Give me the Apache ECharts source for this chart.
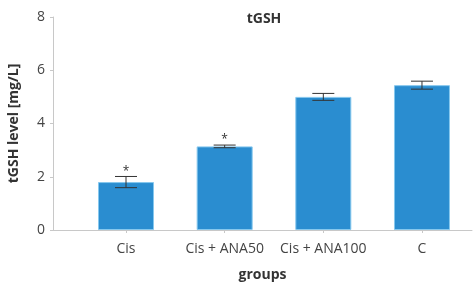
<!DOCTYPE html>
<html>
<head>
<meta charset="utf-8">
<script src="https://cdn.jsdelivr.net/npm/echarts@6/dist/echarts.min.js"></script>
<style>
  html, body { margin: 0; padding: 0; background: #fff; }
  #chart { width: 475px; height: 284px; }
</style>
</head>
<body>
<div id="chart"></div>
<script>
const groups = ['Cis', 'Cis + ANA50', 'Cis + ANA100', 'C']
const means = [1.8, 3.14, 5.0, 5.44]
const errors = [0.21, 0.05, 0.13, 0.15]
const marks = ['*', '*', '', '']

const chart = echarts.init(document.getElementById('chart'))
const font = '"Open Sans", "Noto Sans", sans-serif'

chart.setOption({
    animation: false,
    title: {
        text: 'tGSH',
        left: 259,
        top: 7,
        textAlign: 'center',
        textStyle: { fontFamily: font, fontSize: 14, fontWeight: 'bold', color: '#333' }
    },
    grid: { left: 53, right: 3, top: 17, bottom: 54, outerBoundsMode: 'none' },
    xAxis: {
        type: 'value',
        min: -0.74,
        max: 3.507,
        name: 'groups',
        nameLocation: 'middle',
        nameGap: 38,
        nameTextStyle: { fontFamily: font, fontSize: 14, fontWeight: 'bold', color: '#333' },
        splitLine: { show: false },
        axisLine: { show: true, onZero: false, lineStyle: { color: '#c8c8c8' } },
        axisTick: { show: true, length: 3, customValues: [0, 1, 2, 3], lineStyle: { color: '#c8c8c8' } },
        axisLabel: {
            customValues: [0, 1, 2, 3],
            formatter: v => groups[Math.round(v)],
            fontFamily: font, fontSize: 14, color: '#444', margin: 12
        }
    },
    yAxis: {
        type: 'value',
        min: 0,
        max: 8,
        interval: 2,
        name: 'tGSH level [mg/L]',
        nameLocation: 'middle',
        nameGap: 32,
        nameTextStyle: { fontFamily: font, fontSize: 14, fontWeight: 'bold', color: '#333' },
        splitLine: { show: false },
        axisLine: { show: true, onZero: false, lineStyle: { color: '#c8c8c8' } },
        axisTick: { show: true, length: 3, lineStyle: { color: '#c8c8c8' } },
        axisLabel: { fontFamily: font, fontSize: 14, color: '#444', margin: 8 }
    },
    series: [
        {
            type: 'bar',
            barWidth: 56,
            data: means.map((v, i) => [i, v]),
            itemStyle: { color: '#2a8dd0', borderColor: '#86c8ee', borderWidth: 1 }
        },
        {
            type: 'custom',
            data: means.map((v, i) => [i, v - errors[i], v + errors[i], marks[i]]),
            renderItem: (params, api) => {
                const x = api.value(0)
                const lo = api.coord([x, api.value(1)])
                const hi = api.coord([x, api.value(2)])
                const half = 11
                const style = { stroke: '#333', lineWidth: 1 }
                const children = [
                    { type: 'line', shape: { x1: lo[0], y1: lo[1], x2: hi[0], y2: hi[1] }, style },
                    { type: 'line', shape: { x1: lo[0] - half, y1: lo[1], x2: lo[0] + half, y2: lo[1] }, style },
                    { type: 'line', shape: { x1: hi[0] - half, y1: hi[1], x2: hi[0] + half, y2: hi[1] }, style }
                ]
                const mark = api.value(3)
                if (mark) {
                    children.push({
                        type: 'text',
                        style: {
                            text: mark, x: hi[0], y: hi[1] + 1,
                            align: 'center', verticalAlign: 'bottom',
                            fontFamily: font, fontSize: 12, fill: '#333'
                        }
                    })
                }
                return { type: 'group', children }
            },
            z: 10
        }
    ]
})
</script>
</body>
</html>
